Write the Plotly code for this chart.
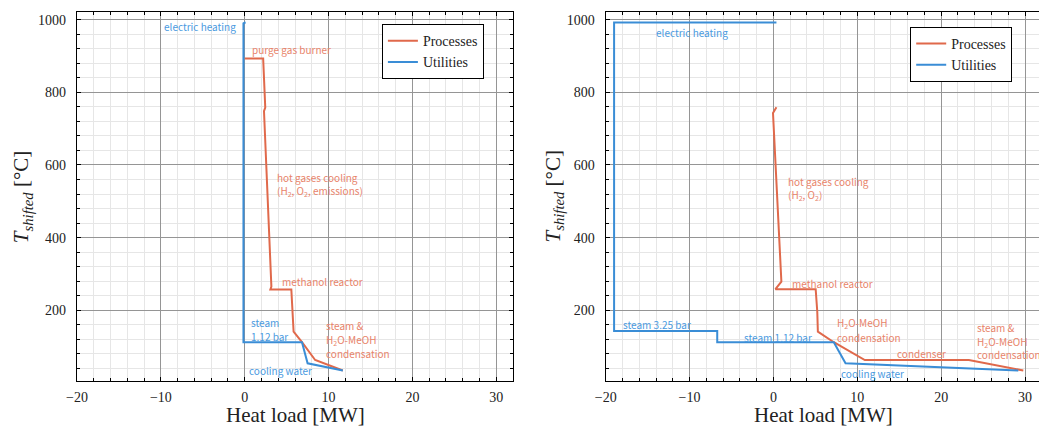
import plotly.graph_objects as go

# ---------------- data ----------------
# Left panel (composite curves)
left_proc_x = [0.0, 2.2, 2.45, 2.3, 3.18, 3.06, 5.56, 5.83, 6.83, 8.4, 11.7]
left_proc_y = [893, 893, 758, 748, 265, 257, 257, 141, 112, 63, 34]
left_util_x = [0.1, -0.15, -0.15, 6.83, 7.5, 11.7]
left_util_y = [993, 990, 112, 112, 54, 34]

# Right panel
right_proc_x = [0.36, -0.05, 0.95, 0.24, 5.04, 5.23, 5.3, 7.2, 10.9, 23.3, 29.8]
right_proc_y = [759, 743, 279, 258, 258, 196, 141, 112, 63, 63, 34]
right_util_x = [0.36, -19.0, -19.0, -6.7, -6.7, 7.2, 8.6, 29.2]
right_util_y = [992, 992, 143, 143, 112, 112, 54, 34]

# Labels: (text, x, y, kind, anchor)
left_labels = [
    ("electric heating", -0.75, 980, "util", "right"),
    ("purge gas burner", 0.68, 917, "proc", "left"),
    ("hot gases cooling", 3.65, 566, "proc", "left"),
    ("(H<sub>2</sub>, O<sub>2</sub>, emissions)", 3.65, 527, "proc", "left"),
    ("methanol reactor", 4.17, 279, "proc", "left"),
    ("steam", 0.56, 166, "util", "left"),
    ("1.12 bar", 0.56, 129, "util", "left"),
    ("steam &amp;", 9.5, 158, "proc", "left"),
    ("H<sub>2</sub>O-MeOH", 9.5, 118, "proc", "left"),
    ("condensation", 9.5, 80, "proc", "left"),
    ("cooling water", 0.29, 34, "util", "left"),
]
right_labels = [
    ("electric heating", -14.3, 965, "util", "left"),
    ("hot gases cooling", 1.55, 554, "proc", "left"),
    ("(H<sub>2</sub>, O<sub>2</sub>)", 1.55, 518, "proc", "left"),
    ("methanol reactor", 1.94, 274, "proc", "left"),
    ("H<sub>2</sub>O-MeOH", 7.4, 166, "proc", "left"),
    ("condensation", 7.4, 126, "proc", "left"),
    ("condenser", 14.5, 80, "proc", "left"),
    ("steam &amp;", 24.0, 153, "proc", "left"),
    ("H<sub>2</sub>O-MeOH", 24.0, 113, "proc", "left"),
    ("condensation", 24.0, 77, "proc", "left"),
    ("steam 3.25 bar", -18.2, 161, "util", "left"),
    ("steam 1.12 bar", -3.7, 125, "util", "left"),
    ("cooling water", 7.8, 26, "util", "left"),
]

series_names = ["Processes", "Utilities"]
x_ticks = [-20, -10, 0, 10, 20, 30]
y_ticks = [200, 400, 600, 800, 1000]

# ---------------- style ----------------
W, H = 1039, 430
ORANGE = "#E0694B"
BLUE = "#3A8DD6"
ORANGE_T = "#E8836A"
BLUE_T = "#4A9ADF"
SERIF = "Liberation Serif"
SANS = "Noto Sans CJK JP"

ML, MR, MT, MB = 0, 0, 12, 49
plot_h = H - MT - MB

fig = go.Figure()

def add_pair(px, py, ux, uy, xa, ya, leg):
    fig.add_trace(go.Scatter(x=px, y=py, mode="lines", name=series_names[0],
                             line=dict(color=ORANGE, width=2), xaxis=xa, yaxis=ya,
                             legend=leg))
    fig.add_trace(go.Scatter(x=ux, y=uy, mode="lines", name=series_names[1],
                             line=dict(color=BLUE, width=2), xaxis=xa, yaxis=ya,
                             legend=leg))

add_pair(left_proc_x, left_proc_y, left_util_x, left_util_y, "x", "y", "legend")
add_pair(right_proc_x, right_proc_y, right_util_x, right_util_y, "x2", "y2", "legend2")

def xaxis_cfg(domain, rng, anchor):
    return dict(domain=domain, range=rng, anchor=anchor, tickvals=x_ticks,
                ticktext=[str(v).replace("-", "\u2212") for v in x_ticks],
                automargin=False,
                showgrid=True, gridcolor="#959595", gridwidth=1, zeroline=False,
                showline=True, linecolor="black", linewidth=1.3, mirror="allticks",
                ticks="inside", ticklen=4, tickcolor="black", tickwidth=1,
                tickfont=dict(family=SERIF, size=14, color="#222"),
                ticklabelstandoff=3,
                minor=dict(dtick=2, showgrid=True, gridcolor="#e6e6e6", gridwidth=1,
                           ticks="inside", ticklen=3, tickcolor="black"))

def yaxis_cfg(rng, anchor, mirror):
    return dict(domain=[0, 1], range=rng, anchor=anchor, tickvals=y_ticks,
                automargin=False,
                showgrid=True, gridcolor="#959595", gridwidth=1, zeroline=False,
                showline=True, linecolor="black", linewidth=1.3, mirror=mirror,
                ticks="inside", ticklen=4, tickcolor="black", tickwidth=1,
                tickfont=dict(family=SERIF, size=14, color="#222"),
                ticklabelstandoff=7,
                minor=dict(dtick=40, showgrid=True, gridcolor="#e6e6e6", gridwidth=1,
                           ticks="inside", ticklen=3, tickcolor="black"))

yr = [5.2, 1021.2]
fig.update_layout(
    xaxis=xaxis_cfg([77 / W, 513.3 / W], [-20, 32.03], "y"),
    yaxis=yaxis_cfg(yr, "x", "allticks"),
    xaxis2=xaxis_cfg([605.7 / W, 1.0], [-20, 31.67], "y2"),
    yaxis2=yaxis_cfg(yr, "x2", False),
)

legend_style = dict(bgcolor="white", bordercolor="black", borderwidth=1.2,
                    font=dict(family=SERIF, size=14, color="#222"),
                    xanchor="left", yanchor="top", tracegroupgap=0)
fig.update_layout(
    legend=dict(x=381.7 / W, y=(H - MB - 24) / plot_h, **legend_style),
    legend2=dict(x=910 / W, y=(H - MB - 26.7) / plot_h, **legend_style),
)

ann = []
for labels, xr, yr_ in ((left_labels, "x", "y"), (right_labels, "x2", "y2")):
    for text, x, y, kind, anchor in labels:
        ann.append(dict(text=text, x=x, y=y, xref=xr, yref=yr_, showarrow=False,
                        xanchor=anchor, yanchor="middle",
                        font=dict(family=SANS, size=10,
                                  color=ORANGE_T if kind == "proc" else BLUE_T)))

# axis titles
for cx in ((77 + 513.3) / 2 / W, (605.7 + 605.7 + 436.3) / 2 / W):
    ann.append(dict(text="Heat load [MW]", x=cx, y=(H - MB - 415) / plot_h,
                    xref="paper", yref="paper", showarrow=False,
                    xanchor="center", yanchor="middle",
                    font=dict(family=SERIF, size=21, color="#222")))
for cx in (21.7 / W, 553 / W):
    ann.append(dict(text="<i>T</i><sub><i>shifted</i></sub> [°C]", x=cx, y=0.5,
                    xref="paper", yref="paper", showarrow=False, textangle=-90,
                    xanchor="center", yanchor="middle",
                    font=dict(family=SERIF, size=21, color="#222")))

fig.update_layout(annotations=ann, width=W, height=H,
                  margin=dict(l=ML, r=MR, t=MT, b=MB, autoexpand=False),
                  paper_bgcolor="white", plot_bgcolor="white",
                  showlegend=True, hovermode=False)

fig.write_html("out.html", config={"displayModeBar": False},
               post_script="document.body.style.margin='0';"
                           "document.body.style.overflow='hidden';")
